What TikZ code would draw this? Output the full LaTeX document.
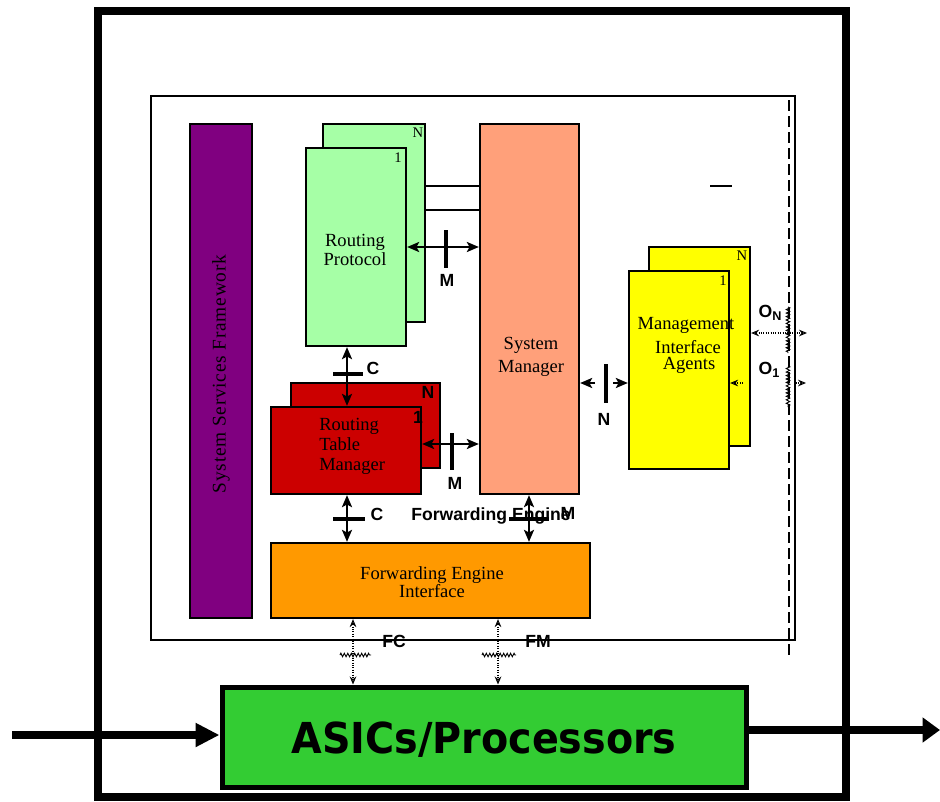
\documentclass[tikz,border=0pt]{standalone}
\usepackage{fontspec}
\setmainfont{Liberation Serif}
\newfontfamily\arialf{Liberation Sans}
\newfontfamily\dejaf{DejaVu Sans}
\usetikzlibrary{arrows.meta,fit,decorations.pathmorphing}
\definecolor{rpgreen}{HTML}{A6FFA6}
\definecolor{smsalmon}{HTML}{FFA07A}
\definecolor{rtmred}{HTML}{CC0000}
\definecolor{ssfpurple}{HTML}{800080}
\definecolor{feiorange}{HTML}{FF9900}
\definecolor{miayellow}{HTML}{FFFF00}
\definecolor{asicgreen}{HTML}{33CC33}
\tikzset{
  blk/.style={draw=black, line width=1.7pt, inner sep=0pt},
  stxt/.style={font=\fontsize{13.9}{14.5}\selectfont, align=center, inner sep=0pt},
  idx/.style={font=\fontsize{11}{11}\selectfont, inner sep=0pt},
  lbl/.style={font=\arialf\bfseries\fontsize{13.2}{14}\selectfont, inner sep=0pt},
  ifc/.style={line width=2pt, {Stealth[length=9pt,width=7.5pt,inset=2pt]}-{Stealth[length=9pt,width=7.5pt,inset=2pt]}},
  onehead/.style={line width=2pt, -{Stealth[length=9pt,width=7.5pt,inset=2pt]}},
  tickbar/.style={line width=3.5pt},
  wav/.style={decorate, decoration={zigzag,amplitude=1.3pt,segment length=2.6pt}, line width=0.7pt},
  dotc/.style={densely dotted, line width=0.8pt, {Stealth[open,length=6pt,width=5pt]}-{Stealth[open,length=6pt,width=5pt]}},
  dothead/.style={densely dotted, line width=0.8pt, -{Stealth[open,length=6pt,width=5pt]}}
}
\begin{document}
\begin{tikzpicture}[x=0.75pt,y=-0.75pt]
\useasboundingbox (0,0) rectangle (940,801);
\fill[white] (0,0) rectangle (940,801);
% outer frame
\draw[line width=6pt] (98,11) rectangle (846,797);
% inner box
\node[draw, line width=1.5pt, inner sep=0pt, fit={(151,96)(795,640)}] (inner) {};
\draw[line width=0.9pt, dash pattern=on 8pt off 4pt] (789,100) -- (789,656);
\draw[line width=1.5pt] (710,186) -- (732,186);

% system services framework
\node[blk, fill=ssfpurple, fit={(190,124)(252,618)}] (ssf) {};
\node[stxt, rotate=90, font=\fontsize{14.5}{15}\selectfont\addfontfeature{LetterSpace=4}] at (221,374) {System Services Framework};

% routing protocol
\node[blk, fill=rpgreen, fit={(323,124)(425,322)}] (rpN) {};
\node[idx] at (418,133) {N};
\node[blk, fill=rpgreen, fit={(306,148)(406,346)}] (rp1) {};
\node[idx] at (398,158) {1};
\node[stxt, font=\fontsize{13.9}{14.5}\selectfont] at (355,250) {Routing\\Protocol};

% system manager
\node[blk, fill=smsalmon, fit={(480,124)(579,494)}] (sm) {};
\node[stxt, font=\fontsize{13.9}{17}\selectfont] at (531,357) {System\\Manager};

\draw[line width=1.5pt] (rpN.east |- 0,186) -- (sm.west |- 0,186);
\draw[line width=2.2pt] (rpN.east |- 0,210) -- (sm.west |- 0,210);

% routing table manager
\node[blk, fill=rtmred, fit={(291,383)(440,468)}] (rtmN) {};
\node[lbl] at (428,392) {N};
\node[blk, fill=rtmred, fit={(271,407)(421,494)}] (rtm1) {};
\node[lbl] at (418,417) {1};
\node[stxt, align=left, anchor=west, font=\fontsize{13.9}{15}\selectfont] at (319,446) {Routing\\Table\\Manager};

% forwarding engine interface
\node[blk, fill=feiorange, fit={(271,543)(590,618)}] (fei) {};
\node[stxt, font=\fontsize{13.9}{12}\selectfont] at (432,582) {Forwarding Engine\\Interface};

% management interface agents
\node[blk, fill=miayellow, fit={(649,247)(750,446)}] (miaN) {};
\node[idx] at (742,256) {N};
\node[blk, fill=miayellow, fit={(629,271)(729,469)}] (mia1) {};
\node[idx] at (723,281) {1};
\node[stxt] at (686,325) {Management};
\node[stxt] at (688,347) {Interface};
\node[stxt] at (689,365) {Agents};

% M: RP <-> SM
\draw[ifc] (rp1.east |- 0,247) -- (sm.west |- 0,247);
\draw[tickbar] (446,230) -- (446,268);
\node[lbl] at (447,280) {M};

% C: RP <-> RTM
\draw[ifc] (347,0 |- rp1.south) -- (347,0 |- rtm1.north);
\draw[tickbar] (333,374) -- (363,374);
\node[lbl] at (373,368) {C};

% M: RTM <-> SM
\draw[ifc] (rtm1.east |- 0,444) -- (sm.west |- 0,444);
\draw[tickbar] (452,433) -- (452,470);
\node[lbl] at (455,483) {M};

% C: RTM <-> FEI
\draw[ifc] (347,0 |- rtm1.south) -- (347,0 |- fei.north);
\draw[tickbar] (333,519) -- (365,519);
\node[lbl] at (377,514) {C};

% Forwarding Engine M
\node[lbl] at (491,516) {Forwarding Engine};
\node[lbl] at (568,513) {M};
\draw[ifc] (529,0 |- sm.south) -- (529,0 |- fei.north);
\draw[tickbar] (509,519) -- (549,519);

% N: SM <-> MIA
\coordinate (nL) at (595,383);
\coordinate (nR) at (613,383);
\draw[onehead] (nL) -- (sm.east |- nL);
\draw[onehead] (nR) -- (mia1.west |- nR);
\draw[tickbar] (606,364) -- (606,403);
\node[lbl] at (604,419) {N};

% O_N and O_1
\coordinate (onR) at (807,333);
\draw[dotc] (miaN.east |- onR) -- (onR);
\draw[wav] (788,307) -- (788,353);
\node[lbl] at (770,313) {O\raisebox{-2.5pt}{\fontsize{9.5}{9.5}\selectfont N}};
\coordinate (o1L) at (743,383);
\coordinate (o1R) at (796,383);
\draw[dothead] (o1L) -- (mia1.east |- o1L);
\draw[dothead] (o1R) -- (806,383);
\draw[wav] (788,366) -- (788,407);
\node[lbl] at (769,370) {O\raisebox{-2.5pt}{\fontsize{9.5}{9.5}\selectfont 1}};

% ASICs
\node[draw, line width=3.75pt, fill=asicgreen, inner sep=0pt, fit={(222,687)(746,787)}] (asic) {};
\node[font=\dejaf\bfseries\fontsize{32}{32}\selectfont, xscale=0.93, inner sep=0pt] at (484,740) {ASICs/Processors};

% FC, FM
\draw[dotc] (353,0 |- fei.south) -- (353,0 |- asic.north);
\draw[wav] (340,655) -- (371,655);
\node[lbl] at (394,641) {FC};
\draw[dotc] (498,0 |- fei.south) -- (498,0 |- asic.north);
\draw[wav] (482,655) -- (516,655);
\node[lbl] at (538,641) {FM};

% in/out arrows
\coordinate (inS) at (12,735);
\draw[line width=6pt, -{Triangle[length=18pt,width=17pt]}] (inS) -- (asic.west |- inS);
\coordinate (outE) at (940,730);
\draw[line width=6pt, -{Triangle[length=13pt,width=18pt]}] (asic.east |- outE) -- (outE);
\end{tikzpicture}
\end{document}
